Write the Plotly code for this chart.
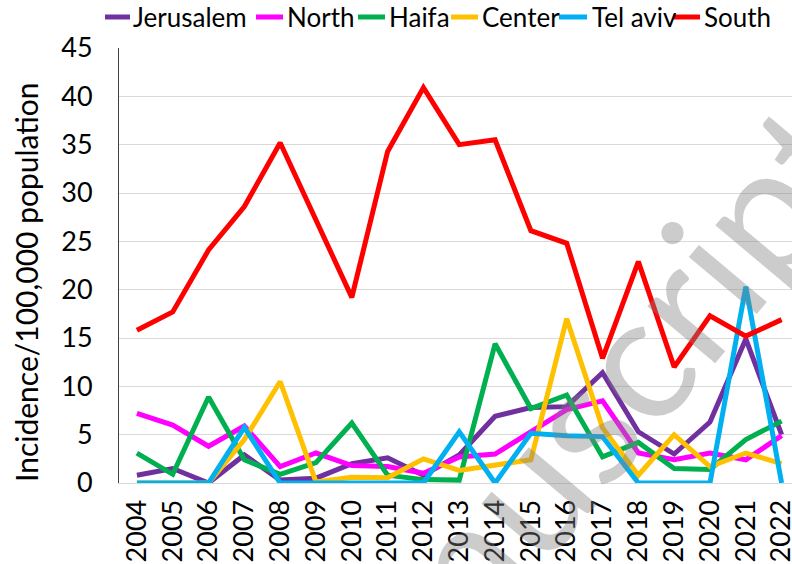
import plotly.graph_objects as go

years = [str(y) for y in range(2004, 2023)]

jerusalem = [0.8, 1.5, 0.0, 2.9, 0.3, 0.5, 2.0, 2.6, 0.8, 2.9, 6.9, 7.8, 7.9, 11.4, 5.3, 3.0, 6.3, 14.9, 5.0]
north     = [7.2, 6.0, 3.8, 5.9, 1.7, 3.1, 1.8, 1.7, 1.0, 2.7, 3.0, 5.3, 7.6, 8.5, 3.1, 2.4, 3.1, 2.4, 4.9]
haifa     = [3.1, 0.9, 8.9, 2.4, 0.9, 2.1, 6.2, 0.8, 0.35, 0.3, 14.4, 7.7, 9.1, 2.7, 4.2, 1.5, 1.4, 4.5, 6.4]
center    = [0.0, 0.0, 0.0, 4.5, 10.5, 0.1, 0.6, 0.55, 2.5, 1.3, 1.8, 2.4, 17.0, 5.7, 0.8, 5.0, 1.7, 3.1, 2.0]
telaviv   = [0.0, 0.0, 0.0, 5.75, 0.0, 0.0, 0.0, 0.0, 0.0, 5.3, 0.0, 5.15, 4.9, 4.8, 0.0, 0.0, 0.0, 20.3, 0.0]
south     = [15.8, 17.7, 24.1, 28.6, 35.2, 27.3, 19.2, 34.3, 40.9, 35.0, 35.5, 26.1, 24.8, 12.9, 22.9, 12.0, 17.3, 15.2, 16.9]

names  = ["Jerusalem", "North", "Haifa", "Center", "Tel aviv", "South"]
values = [jerusalem, north, haifa, center, telaviv, south]
colors = ["#7030A0", "#FF00FF", "#00B050", "#FFC000", "#00B0F0", "#FF0000"]

FONT = "Lato, Liberation Sans, Arial, sans-serif"

W, H = 792, 564
L, R, T, B = 119, 0, 48, 81
PW, PH = W - L - R, H - T - B

def px_x(p):  # screen pixel -> paper x
    return (p - L) / PW

def px_y(p):  # screen pixel -> paper y
    return (H - B - p) / PH

fig = go.Figure()
xs = list(range(len(years)))
for name, vals, color in zip(names, values, colors):
    fig.add_trace(go.Scatter(x=xs, y=vals, name=name, mode="lines",
                             line=dict(color=color, width=5), showlegend=False))

fig.update_layout(
    width=W, height=H,
    margin=dict(l=L, r=R, t=T, b=B, autoexpand=False),
    plot_bgcolor="white", paper_bgcolor="white",
    font=dict(family=FONT, size=27, color="black"),
    showlegend=False,
    xaxis=dict(tickmode="array", tickvals=xs, ticktext=years, tickangle=-90,
               range=[-0.5, 18.29], showgrid=False, showline=True,
               linecolor="#D9D9D9", linewidth=1, ticks="", zeroline=False,
               tickfont=dict(size=27), ticklabelstandoff=5, automargin=False,
               ticklabeloverflow="allow"),
    yaxis=dict(range=[0, 45], dtick=5, showgrid=True, gridcolor="#D9D9D9",
               gridwidth=1, showline=True, linecolor="#404040", linewidth=1,
               ticks="", zeroline=False, tickfont=dict(size=27),
               ticklabelstandoff=20, automargin=False),
)

# y-axis title
fig.add_annotation(text="Incidence/100,000 population", xref="paper", yref="paper",
                   x=px_x(26), y=px_y(282), xanchor="center", yanchor="middle",
                   textangle=-90, showarrow=False, font=dict(size=30))

# legend (swatch + label), laid out along the top
leg_line = [(105, 130), (256, 283), (358, 385), (451, 478), (559, 587), (673, 700)]
leg_text = [131, 285, 387, 480, 590, 702]
ly = px_y(17)
for name, color, (a, b), tx in zip(names, colors, leg_line, leg_text):
    fig.add_shape(type="line", xref="paper", yref="paper",
                  x0=px_x(a), x1=px_x(b), y0=ly, y1=ly,
                  line=dict(color=color, width=5))
    fig.add_annotation(text=name, xref="paper", yref="paper", x=px_x(tx), y=ly,
                       xanchor="left", yanchor="middle", showarrow=False,
                       font=dict(size=26))

# watermark
fig.add_annotation(text="manuscript", xref="paper", yref="paper",
                   x=px_x(552), y=px_y(452), xanchor="center", yanchor="middle",
                   showarrow=False, textangle=-50,
                   font=dict(size=175, color="rgba(128,128,128,0.4)", family=FONT))

# remove the page's default body margin so the figure sits at the window's corner
fig.write_html("out.html", config={"displayModeBar": False},
               post_script="document.body.style.margin='0px';")
